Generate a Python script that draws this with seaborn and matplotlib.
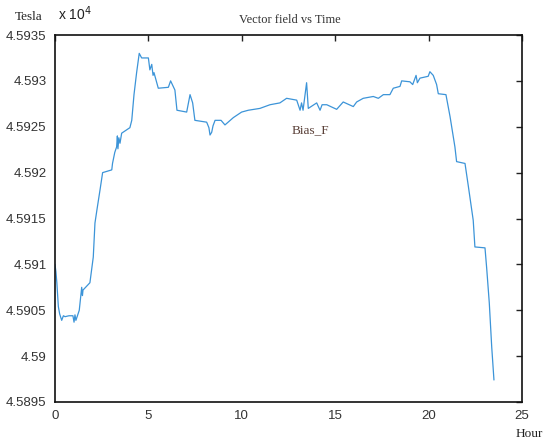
import numpy as np
import pandas as pd
import seaborn as sns
import matplotlib.pyplot as plt

sns.set_style("white")
plt.rcParams["font.family"] = ["Liberation Sans", "DejaVu Sans"]

# hours and field (Tesla / 1e4)
hours = [0.00, 0.05, 0.10, 0.18, 0.25, 0.36, 0.45, 0.54, 0.75, 0.96, 1.02, 1.07, 1.12, 1.30,
         1.43, 1.47, 1.50, 1.87, 2.05, 2.14, 2.25, 2.41, 2.55, 3.04, 3.08, 3.20, 3.30, 3.34,
         3.37, 3.42, 3.48, 3.57, 4.01, 4.11, 4.23, 4.37, 4.51, 4.64, 5.00, 5.08, 5.18, 5.25,
         5.30, 5.53, 6.07, 6.19, 6.42, 6.53, 7.05, 7.23, 7.37, 7.49, 8.12, 8.24, 8.30, 8.39,
         8.46, 8.57, 8.89, 9.10, 9.55, 9.99, 10.35, 10.97, 11.51, 12.04, 12.40, 12.94, 13.12,
         13.20, 13.28, 13.47, 13.56, 14.01, 14.19, 14.30, 14.55, 15.08, 15.43, 15.97, 16.15,
         16.50, 17.04, 17.31, 17.58, 17.93, 18.11, 18.47, 18.56, 19.00, 19.15, 19.33, 19.40,
         19.54, 19.98, 20.07, 20.25, 20.43, 20.52, 20.93, 21.15, 21.41, 21.50, 21.95, 22.13,
         22.39, 22.48, 23.02, 23.11, 23.25, 23.38, 23.50]
field = [4.59100, 4.59092, 4.59080, 4.59054, 4.59046, 4.59039, 4.59044, 4.59043, 4.59044,
         4.59044, 4.59037, 4.59045, 4.59039, 4.59050, 4.59075, 4.59066, 4.59072, 4.59080,
         4.59108, 4.59145, 4.59160, 4.59181, 4.59200, 4.59203, 4.59210, 4.59222, 4.59228,
         4.59240, 4.59226, 4.59238, 4.59232, 4.59243, 4.59249, 4.59257, 4.59285, 4.59309,
         4.59330, 4.59325, 4.59325, 4.59312, 4.59318, 4.59306, 4.59309, 4.59292, 4.59293,
         4.59300, 4.59290, 4.59268, 4.59266, 4.59285, 4.59276, 4.59257, 4.59255, 4.59249,
         4.59241, 4.59244, 4.59251, 4.59257, 4.59257, 4.59252, 4.59260, 4.59266, 4.59268,
         4.59270, 4.59274, 4.59276, 4.59281, 4.59279, 4.59268, 4.59276, 4.59268, 4.59298,
         4.59270, 4.59276, 4.59268, 4.59274, 4.59274, 4.59269, 4.59277, 4.59272, 4.59277,
         4.59281, 4.59283, 4.59281, 4.59285, 4.59285, 4.59292, 4.59294, 4.59300, 4.59299,
         4.59296, 4.59306, 4.59298, 4.59303, 4.59305, 4.59310, 4.59306, 4.59296, 4.59286,
         4.59285, 4.59261, 4.59228, 4.59212, 4.59210, 4.59185, 4.59148, 4.59119, 4.59118,
         4.59096, 4.59058, 4.59010, 4.58974]

yticks = [4.5895, 4.59, 4.5905, 4.591, 4.5915, 4.592, 4.5925, 4.593, 4.5935]
ytick_labels = ["4.5895", "4.59", "4.5905", "4.591", "4.5915", "4.592", "4.5925", "4.593", "4.5935"]
xticks = [0, 5, 10, 15, 20, 25]

df = pd.DataFrame({"hour": hours, "field": field})

fig = plt.figure(figsize=(5.46, 4.42), dpi=100)
ax = fig.add_axes([0.1007, 0.0905, 0.8553, 0.8303])
sns.lineplot(data=df, x="hour", y="field", sort=False, ax=ax,
             color="#3c94d8", linewidth=0.9, estimator=None)

ax.set_xlim(0, 25)
ax.set_ylim(4.5895, 4.5935)
ax.set_xticks(xticks)
ax.set_yticks(yticks)
ax.set_yticklabels(ytick_labels)
ax.set_xlabel("")
ax.set_ylabel("")
ax.tick_params(direction="in", length=4, width=1, top=True, right=True,
               labelsize=9.5, colors="#222222", pad=6)
ax.tick_params(axis="both", labelcolor="#333333")
for s in ax.spines.values():
    s.set_color("#111111")
    s.set_linewidth(1.2)

serif = ["Liberation Serif", "DejaVu Serif"]
fig.text(0.028, 0.955, "Tesla", family=serif, fontsize=9.5, color="#222222")
fig.text(0.106, 0.955, r"x 10$^4$", fontsize=10, color="#222222")
fig.text(0.53, 0.948, "Vector field vs Time", family=serif, fontsize=9, color="#333333", ha="center")
ax.text(13.7, 4.59243, "Bias_F", family=serif, fontsize=9.5, color="#5a4038", ha="center")
fig.text(0.97, 0.012, "Hour", family=serif, fontsize=9.5, color="#222222", ha="center")

fig.savefig("out.png", dpi=100)
